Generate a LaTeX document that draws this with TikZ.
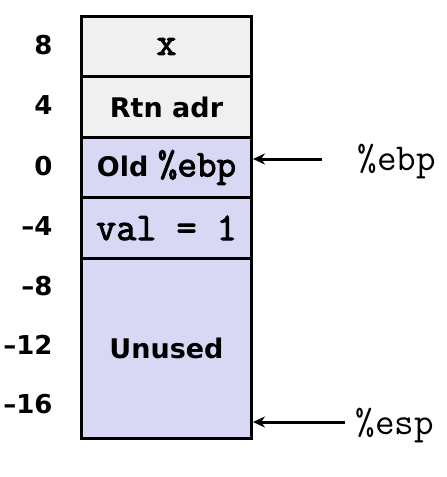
\documentclass[tikz,border=0pt]{standalone}
\usepackage{fontspec}
\setmainfont{DejaVu Sans}
\newfontfamily\courbold[FakeBold=2.5]{Latin Modern Mono}
\usetikzlibrary{arrows.meta}
\definecolor{lav}{RGB}{216,216,245}
\definecolor{lgray}{RGB}{240,240,240}
\tikzset{
  cell/.style={draw=black, line width=3pt, minimum width=170pt, inner sep=0pt, anchor=north west},
  offs/.style={anchor=east, font=\fontsize{26}{30}\selectfont\bfseries},
  reg/.style={anchor=west, font=\fontsize{38}{44}\selectfont\ttfamily},
  ptr/.style={line width=3pt, -{Stealth[length=12pt,width=11pt]}},
  sanst/.style={font=\fontsize{27}{32}\selectfont\bfseries},
  courb/.style={font=\fontsize{39}{44}\selectfont\courbold}
}
\begin{document}
\begin{tikzpicture}[x=1pt,y=-1pt]
\useasboundingbox[fill=white] (0,0) rectangle (447,477);
\node[cell, fill=lgray, minimum height=60pt, courb] (cx) at (80,15) {x};
\node[cell, fill=lgray, minimum height=61pt, sanst] (crtn) at (80,75) {Rtn adr};
\node[cell, fill=lav, minimum height=60pt, sanst] (cold) at (80,136) {Old {\fontsize{38}{44}\selectfont\courbold \%ebp}};
\node[cell, fill=lav, minimum height=61pt, courb] (cval) at (80,196) {val = 1};
\node[cell, fill=lav, minimum height=180pt, sanst] (cun) at (80,257) {Unused};
\node[offs] (o8) at (56,45) {8};
\node[offs] (o4) at (56,105) {4};
\node[offs] (o0) at (56,166) {0};
\node[offs] (om4) at (56,226) {–4};
\node[offs] (om8) at (56,286) {–8};
\node[offs] (om12) at (56,345) {–12};
\node[offs] (om16) at (56,404) {–16};
\coordinate (ebpT) at (322,159);
\coordinate (espT) at (345,422);
\node[reg] (ebp) at (354,162) {\%ebp};
\node[reg] (esp) at (352,426) {\%esp};
\draw[ptr] (ebpT) -- (ebpT -| cold.east);
\draw[ptr] (espT) -- (espT -| cun.east);
\end{tikzpicture}
\end{document}
